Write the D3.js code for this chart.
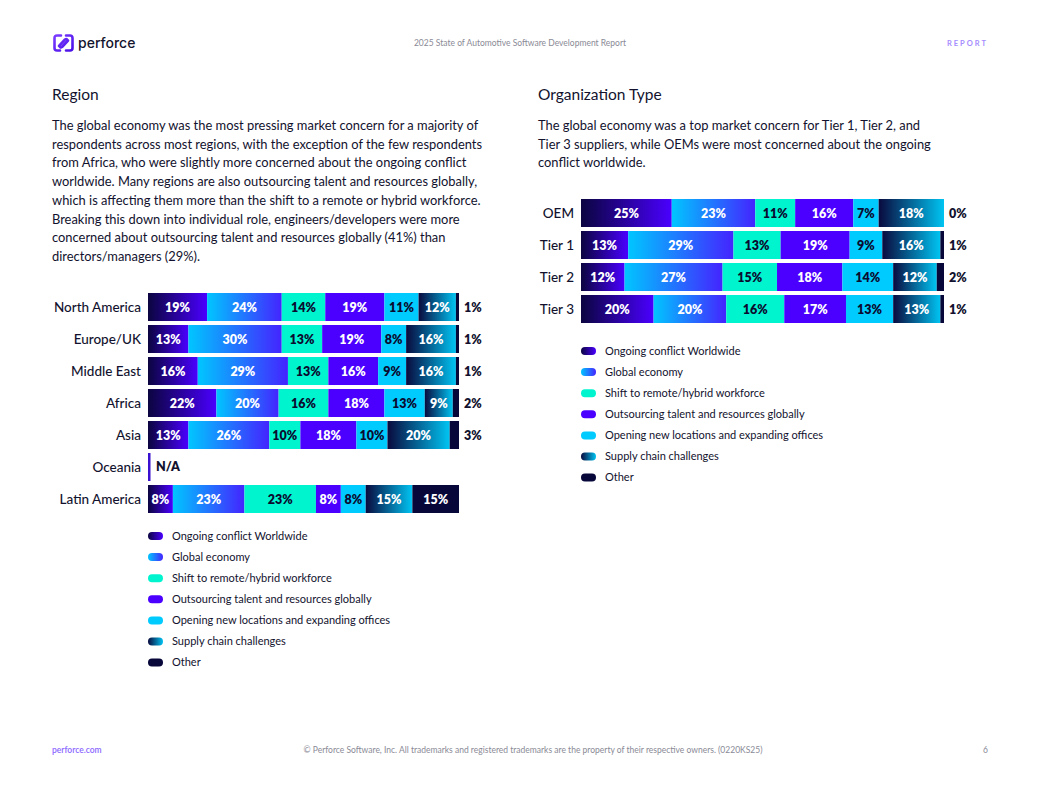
<!DOCTYPE html>
<html><head><meta charset="utf-8">
<script src="https://cdn.jsdelivr.net/npm/d3@7"></script>
<style>
html,body{margin:0;padding:0;background:#fff;}
svg{display:block;font-family:Lato,"Noto Sans",sans-serif;}
</style></head>
<body>
<svg id="page" width="1039" height="799"></svg>
<script>
// ---------- DATA ----------
const seriesNames = ["Ongoing conflict Worldwide","Global economy","Shift to remote/hybrid workforce","Outsourcing talent and resources globally","Opening new locations and expanding offices","Supply chain challenges","Other"];

const regionCategories = ["North America","Europe/UK","Middle East","Africa","Asia","Oceania","Latin America"];
const regionConflict    = [19,13,16,22,13,null,8];
const regionEconomy     = [24,30,29,20,26,null,23];
const regionShift       = [14,13,13,16,10,null,23];
const regionOutsourcing = [19,19,16,18,18,null,8];
const regionOpening     = [11,8,9,13,10,null,8];
const regionSupply      = [12,16,16,9,20,null,15];
const regionOther       = [1,1,1,2,3,null,15];

const orgCategories = ["OEM","Tier 1","Tier 2","Tier 3"];
const orgConflict    = [25,13,12,20];
const orgEconomy     = [23,29,27,20];
const orgShift       = [11,13,15,16];
const orgOutsourcing = [16,19,18,17];
const orgOpening     = [7,9,14,13];
const orgSupply      = [18,16,12,13];
const orgOther       = [0,1,2,1];

const regionTitle = "Region";
const regionText = [
 "The global economy was the most pressing market concern for a majority of",
 "respondents across most regions, with the exception of the few respondents",
 "from Africa, who were slightly more concerned about the ongoing conflict",
 "worldwide. Many regions are also outsourcing talent and resources globally,",
 "which is affecting them more than the shift to a remote or hybrid workforce.",
 "Breaking this down into individual role, engineers/developers were more",
 "concerned about outsourcing talent and resources globally (41%) than",
 "directors/managers (29%)."
];
const orgTitle = "Organization Type";
const orgText = [
 "The global economy was a top market concern for Tier 1, Tier 2, and",
 "Tier 3 suppliers, while OEMs were most concerned about the ongoing",
 "conflict worldwide."
];

// ---------- STYLE ----------
const fills = [
  {type:"grad", from:"#0b0540", to:"#4a00ff"},
  {type:"grad", from:"#00c6ff", to:"#4424ff"},
  {type:"solid", c:"#00f5cf"},
  {type:"solid", c:"#4b00ff"},
  {type:"solid", c:"#00cbff"},
  {type:"grad", from:"#0a0a3e", to:"#00c4f2"},
  {type:"solid", c:"#07073a"}
];
const labelColors = ["#fff","#fff","#0b0b30","#fff","#0b0b30","#fff","#fff"];
const ink = "#12122e";

const svg = d3.select("#page");
const defs = svg.append("defs");
fills.forEach((f,i)=>{
  if(f.type==="grad"){
    const g = defs.append("linearGradient").attr("id","g"+i).attr("x1","0").attr("x2","1").attr("y1","0").attr("y2","0");
    g.append("stop").attr("offset","0").attr("stop-color",f.from);
    g.append("stop").attr("offset","1").attr("stop-color",f.to);
  }
});
const fillOf = i => fills[i].type==="grad" ? `url(#g${i})` : fills[i].c;

// ---------- HEADER ----------
const logo = svg.append("g").attr("transform","translate(53,34)");
const lg = defs.append("linearGradient").attr("id","logoG").attr("x1","0").attr("x2","1").attr("y1","0").attr("y2","1");
lg.append("stop").attr("offset","0").attr("stop-color","#7a3cff");
lg.append("stop").attr("offset","1").attr("stop-color","#4a10e8");
logo.append("path").attr("d","M8,1.5 L4,1.5 Q1.5,1.5 1.5,4 L1.5,14 Q1.5,16.5 4,16.5 L7,16.5 M13,1.5 L17,1.5 Q19.5,1.5 19.5,4 L19.5,14 Q19.5,16.5 17,16.5 L13,16.5 M6,12 L12,5.5 Q14,4 14.5,7 M15,6.5 L9,13 Q7,14.5 6.5,11.5")
  .attr("fill","none").attr("stroke","url(#logoG)").attr("stroke-width",2.6).attr("stroke-linecap","round").attr("stroke-linejoin","round");
svg.append("text").attr("x",78).attr("y",48).attr("font-size",14).attr("fill","#14142e").attr("font-family","Inter, Lato, sans-serif").attr("font-weight",500).text("perforce");
svg.append("text").attr("x",520).attr("y",46).attr("text-anchor","middle").attr("font-size",8.5).attr("fill","#8a8a96").text("2025 State of Automotive Software Development Report");
svg.append("text").attr("x",988).attr("y",46).attr("text-anchor","end").attr("font-size",7.5).attr("font-weight",700).attr("letter-spacing",2).attr("fill","#a58cff").text("REPORT");

// ---------- FOOTER ----------
svg.append("text").attr("x",52).attr("y",753).attr("font-size",8.5).attr("font-weight",600).attr("fill","#8a66ff").text("perforce.com");
svg.append("text").attr("x",533).attr("y",753).attr("text-anchor","middle").attr("font-size",8.5).attr("fill","#8a8a96").text("© Perforce Software, Inc. All trademarks and registered trademarks are the property of their respective owners. (0220KS25)");
svg.append("text").attr("x",988).attr("y",753).attr("text-anchor","end").attr("font-size",8.5).attr("fill","#8a8a96").text("6");

// ---------- TEXT BLOCKS ----------
function textBlock(x, titleY, title, lines, firstY){
  svg.append("text").attr("x",x).attr("y",titleY).attr("font-size",15.5).attr("fill",ink).text(title);
  svg.append("g").selectAll("text").data(lines).join("text")
    .attr("x",x).attr("y",(d,i)=>firstY+i*18.7).attr("font-size",12.9).attr("fill",ink).text(d=>d);
}
textBlock(52, 100, regionTitle, regionText, 130);
textBlock(538, 100, orgTitle, orgText, 130);

// ---------- CHART ----------
function stacked(opts){
  const {cats, series, x0, width, yTop, step, barH, labelX, legendX, legendY} = opts;
  const x = d3.scaleLinear().domain([0,100]).range([x0, x0+width]);
  const y = d3.scaleBand().domain(cats).range([yTop, yTop+step*cats.length]).paddingInner(1-barH/step).paddingOuter((1-barH/step)/2);
  const g = svg.append("g");
  g.selectAll("text.cat").data(cats).join("text").attr("class","cat")
    .attr("x",labelX).attr("y",d=>y(d)+y.bandwidth()/2).attr("dy","0.35em")
    .attr("text-anchor","end").attr("font-size",13.5).attr("font-weight",500).attr("fill",ink).text(d=>d);
  cats.forEach((c,ci)=>{
    const vals = series.map(s=>s[ci]);
    if(vals.every(v=>v===null)){
      g.append("rect").attr("x",x(0)).attr("y",y(c)).attr("width",2.5).attr("height",y.bandwidth()).attr("fill","#3a10d0");
      g.append("text").attr("x",x(0)+8).attr("y",y(c)+y.bandwidth()/2).attr("dy","0.35em").attr("font-size",12.5).attr("font-weight",800).attr("fill",ink).text("N/A");
      return;
    }
    let acc = 0;
    const segs = vals.map((v,i)=>{const s={i, v, a:acc, b:acc+v}; acc+=v; return s;});
    const row = g.append("g");
    row.selectAll("rect").data(segs.filter(s=>s.v>0)).join("rect")
      .attr("x",s=>x(s.a)).attr("y",y(c)).attr("width",s=>x(s.b)-x(s.a)).attr("height",y.bandwidth())
      .attr("fill",s=>fillOf(s.i));
    row.selectAll("text").data(segs).join("text")
      .attr("x",s=> (s.i===6 && s.v<=3) ? x(100)+5 : (x(s.a)+x(s.b))/2)
      .attr("text-anchor",s=> (s.i===6 && s.v<=3) ? "start" : "middle")
      .attr("y",y(c)+y.bandwidth()/2).attr("dy","0.36em")
      .attr("font-size",12.5).attr("font-weight",800)
      .attr("fill",s=> (s.i===6 && s.v<=3) ? ink : labelColors[s.i])
      .text(s=>s.v+"%");
  });
  const lgG = svg.append("g");
  const items = lgG.selectAll("g").data(seriesNames).join("g")
    .attr("transform",(d,i)=>`translate(${legendX},${legendY+i*21.1})`);
  items.append("rect").attr("x",0).attr("y",-4).attr("width",15).attr("height",8).attr("rx",4).attr("fill",(d,i)=>fillOf(i));
  items.append("text").attr("x",24).attr("y",0).attr("dy","0.35em").attr("font-size",11).attr("fill",ink).text(d=>d);
}

stacked({cats:regionCategories,
  series:[regionConflict,regionEconomy,regionShift,regionOutsourcing,regionOpening,regionSupply,regionOther],
  x0:148, width:311, yTop:291, step:32, barH:28, labelX:141, legendX:148, legendY:536});
stacked({cats:orgCategories,
  series:[orgConflict,orgEconomy,orgShift,orgOutsourcing,orgOpening,orgSupply,orgOther],
  x0:581, width:363, yTop:197, step:32, barH:28, labelX:574, legendX:581, legendY:351});
</script>
</body></html>
